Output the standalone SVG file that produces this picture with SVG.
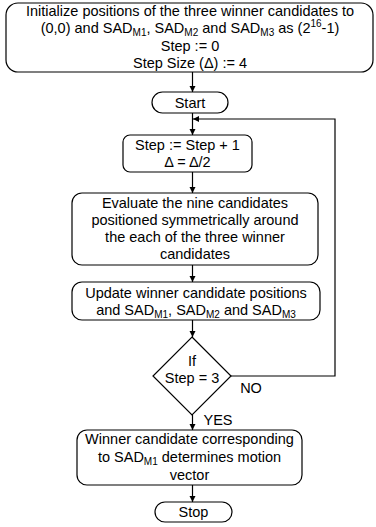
<svg xmlns="http://www.w3.org/2000/svg" width="376" height="527" viewBox="0 0 376 527">
<style>
.b{fill:#fff;stroke:#000;stroke-width:1.2}
.t{font-family:"Liberation Sans",Arial,sans-serif;font-size:14.5px;fill:#000;text-anchor:middle}
.s{font-size:10px}
.c{fill:none;stroke:#000;stroke-width:1.2}
</style>
<defs>
<marker id="a" viewBox="0 0 10 10" refX="10" refY="5" markerWidth="6" markerHeight="7" markerUnits="userSpaceOnUse" orient="auto"><path d="M0,0L10,5L0,10z" fill="#000"/></marker>
</defs>
<rect width="376" height="527" fill="#fff"/>
<g id="connectors">
<path class="c" d="M192.5,72V92" marker-end="url(#a)"/>
<path class="c" d="M192.5,113V135" marker-end="url(#a)"/>
<path class="c" d="M192.5,172V193" marker-end="url(#a)"/>
<path class="c" d="M192.5,265V282" marker-end="url(#a)"/>
<path class="c" d="M192.5,320V337" marker-end="url(#a)"/>
<path class="c" d="M231,376H335V119H193" marker-end="url(#a)"/>
<path class="c" d="M192.5,415V430" marker-end="url(#a)"/>
<path class="c" d="M192.5,485V502" marker-end="url(#a)"/>
</g>
<g id="init">
<rect class="b" x="6" y="3" width="367" height="69" rx="12"/>
<text class="t" x="190" y="16">Initialize positions of the three winner candidates to</text>
<text class="t" x="190" y="33">(0,0) and SAD<tspan class="s" dy="3">M1</tspan><tspan dy="-3">, SAD</tspan><tspan class="s" dy="3">M2</tspan><tspan dy="-3"> and SAD</tspan><tspan class="s" dy="3">M3</tspan><tspan dy="-3"> as (2</tspan><tspan class="s" dy="-6">16</tspan><tspan dy="6">-1)</tspan></text>
<text class="t" x="190" y="51">Step := 0</text>
<text class="t" x="190" y="68">Step Size (Δ) := 4</text>
</g>
<g id="start">
<rect class="b" x="152" y="92" width="76" height="21" rx="10.5"/>
<text class="t" x="190" y="107.5">Start</text>
</g>
<g id="step">
<rect class="b" x="123" y="135" width="129" height="37" rx="7"/>
<text class="t" x="187.5" y="150">Step := Step + 1</text>
<text class="t" x="187.5" y="167">Δ = Δ/2</text>
</g>
<g id="evaluate">
<rect class="b" x="72" y="193" width="246" height="72" rx="10"/>
<text class="t" x="195" y="208">Evaluate the nine candidates</text>
<text class="t" x="195" y="225">positioned symmetrically around</text>
<text class="t" x="195" y="242">the each of the three winner</text>
<text class="t" x="195" y="259">candidates</text>
</g>
<g id="update">
<rect class="b" x="72" y="282" width="248" height="38" rx="10"/>
<text class="t" x="196" y="298">Update winner candidate positions</text>
<text class="t" x="196" y="315">and SAD<tspan class="s" dy="3">M1</tspan><tspan dy="-3">, SAD</tspan><tspan class="s" dy="3">M2</tspan><tspan dy="-3"> and SAD</tspan><tspan class="s" dy="3">M3</tspan></text>
</g>
<g id="decision">
<path class="b" d="M192,337L231,376L192,415L153,376Z"/>
<text class="t" x="192" y="366">If</text>
<text class="t" x="192" y="383">Step = 3</text>
</g>
<g id="labels">
<text class="t" x="251" y="393">NO</text>
<text class="t" x="218" y="425">YES</text>
</g>
<g id="winner">
<rect class="b" x="77" y="430" width="225" height="55" rx="10"/>
<text class="t" x="189.5" y="444">Winner candidate corresponding</text>
<text class="t" x="189.5" y="462">to SAD<tspan class="s" dy="3">M1</tspan><tspan dy="-3"> determines motion</tspan></text>
<text class="t" x="189.5" y="480">vector</text>
</g>
<g id="stop">
<rect class="b" x="155" y="502" width="77" height="20" rx="10"/>
<text class="t" x="193.5" y="517">Stop</text>
</g>
</svg>
